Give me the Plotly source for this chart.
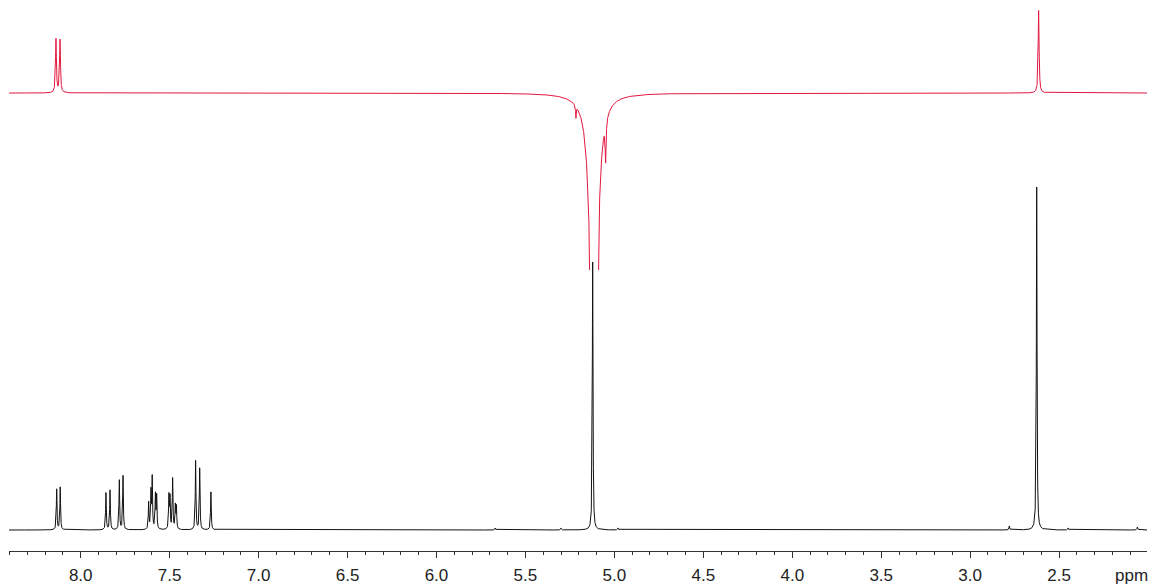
import numpy as np
import plotly.graph_objects as go

# ---- data (ppm, peak heights in screen-pixel units) ----
black_ppm = [8.135, 8.115, 7.858, 7.835, 7.783, 7.762,
             7.618, 7.605, 7.598, 7.580, 7.573,
             7.504, 7.498, 7.483, 7.468, 7.462,
             7.354, 7.331, 7.268,
             5.670, 5.300, 5.122, 4.980,
             2.780, 2.626, 2.450, 2.060]
black_height = [41, 43, 37, 40, 50, 54,
                27, 37, 51, 34, 33,
                33, 31, 51, 23, 22,
                69, 62, 38,
                2, 2, 268, 2,
                4, 343, 2, 3]

red_ppm = [8.139, 8.116, 2.615, 5.115, 5.216, 5.049]
red_height = [54, 53, 83, -489, -12, -40]
red_halfwidth = [0.003, 0.003, 0.003, 0.0169, 0.002, 0.003]

x_tick_vals = [8.0, 7.5, 7.0, 6.5, 6.0, 5.5, 5.0, 4.5, 4.0, 3.5, 3.0, 2.5]
x_tick_text = ["8.0", "7.5", "7.0", "6.5", "6.0", "5.5", "5.0", "4.5", "4.0", "3.5", "3.0", "2.5"]

# ---- layout constants ----
W, H = 1162, 584
ML, MR, MT, MB = 9, 15, 0, 33
PLOT_H = H - MT - MB
X_RANGE = [8.403, 2.006]
BLACK_BASE = 21
RED_BASE = 458
RED_CLIP = 281

ppm = np.arange(X_RANGE[1], X_RANGE[0], 0.0004)


def lorentz_sum(centers, heights, widths):
    y = np.zeros_like(ppm)
    for c, h, g in zip(centers, heights, widths):
        y += h * g * g / ((ppm - c) ** 2 + g * g)
    return y


black = BLACK_BASE + lorentz_sum(black_ppm, black_height, [0.0022] * len(black_ppm))
red = RED_BASE + lorentz_sum(red_ppm, red_height, red_halfwidth)

fig = go.Figure()
fig.add_trace(go.Scatter(x=ppm, y=red, mode="lines",
                         line=dict(color="#e3173e", width=1), yaxis="y2",
                         hoverinfo="skip"))
fig.add_trace(go.Scatter(x=ppm, y=black, mode="lines",
                         line=dict(color="#111111", width=1), yaxis="y",
                         hoverinfo="skip"))

font = dict(family="Liberation Sans, Arial, sans-serif", size=17, color="#222222")

fig.update_layout(
    width=W, height=H,
    margin=dict(l=ML, r=MR, t=MT, b=MB),
    paper_bgcolor="white", plot_bgcolor="rgba(0,0,0,0)",
    showlegend=False,
    xaxis=dict(range=X_RANGE, showgrid=False, zeroline=False,
               showline=True, linecolor="#333333", linewidth=1,
               ticks="outside", ticklen=6, tickwidth=1, tickcolor="#333333",
               tickvals=x_tick_vals, ticktext=x_tick_text, tickfont=font,
               ticklabelstandoff=3,
               minor=dict(dtick=0.1, tick0=0, ticks="outside", ticklen=3,
                          tickwidth=1, tickcolor="#333333", showgrid=False)),
    yaxis=dict(domain=[0, 1], range=[0, PLOT_H], visible=False, fixedrange=True),
    yaxis2=dict(domain=[RED_CLIP / PLOT_H, 1], range=[RED_CLIP, PLOT_H],
                visible=False, anchor="x", fixedrange=True),
)

fig.add_annotation(text="ppm", xref="paper", yref="paper",
                   x=(1131 - ML) / (W - ML - MR), y=-(575 - PLOT_H) / PLOT_H,
                   xanchor="center", yanchor="middle", showarrow=False, font=font)

fig.write_html("out.html", config={"displayModeBar": False},
               post_script="document.body.style.margin='0';document.body.style.overflow='hidden';")
